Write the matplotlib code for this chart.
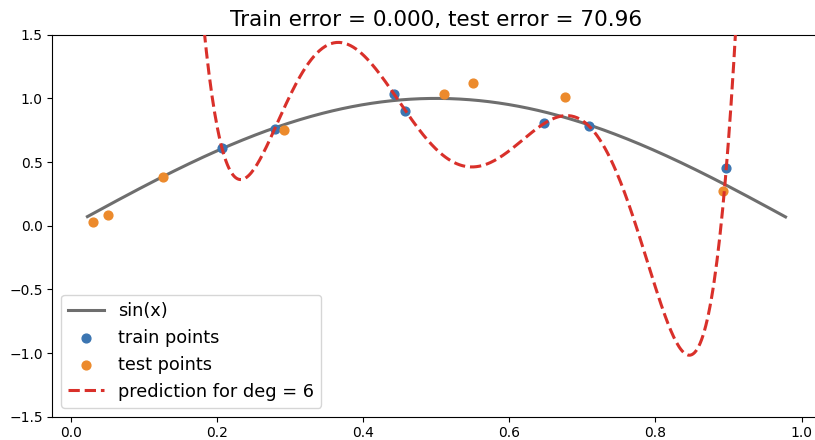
import numpy as np
import matplotlib
matplotlib.use("Agg")
import matplotlib.pyplot as plt

# points
train_x = [0.207, 0.279, 0.442, 0.458, 0.648, 0.7085, 0.897]
train_y = [0.608, 0.760, 1.037, 0.903, 0.804, 0.786, 0.456]
test_x = [0.0305, 0.0515, 0.126, 0.2916, 0.511, 0.551, 0.676, 0.892]
test_y = [0.027, 0.086, 0.383, 0.752, 1.037, 1.123, 1.008, 0.275]
deg = 6
x_min, x_max = 0.0228, 0.978

# deg 6 polynomial through the 7 train points
coefs = np.polyfit(train_x, train_y, deg)
grid = np.linspace(x_min, x_max, 500)
pred = np.polyval(coefs, grid)
train_err = np.mean((np.polyval(coefs, train_x) - np.array(train_y)) ** 2)

fig = plt.figure(figsize=(8.15, 4.40), dpi=100)
ax = fig.add_axes([0.0644, 0.053, 0.9425, 0.868])

ax.plot(grid, np.sin(np.pi * grid), color="#555555", lw=2.2, alpha=0.85, label="sin(x)")
ax.scatter(train_x, train_y, color="#3b75b1", s=40, label="train points", zorder=3)
ax.scatter(test_x, test_y, color="#ec8a2c", s=40, label="test points", zorder=3)
ax.plot(grid, pred, "--", color="#d9302a", lw=2.2, label="prediction for deg = %d" % deg, zorder=4)

ax.set_ylim(-1.5, 1.5)
ax.set_xlim(-0.025, 1.026)
ax.set_title("Train error = %.3f, test error = 70.96" % train_err, fontsize=15.5)
ax.legend(loc="lower left", fontsize=12.8)

fig.savefig("out.png", dpi=100)
